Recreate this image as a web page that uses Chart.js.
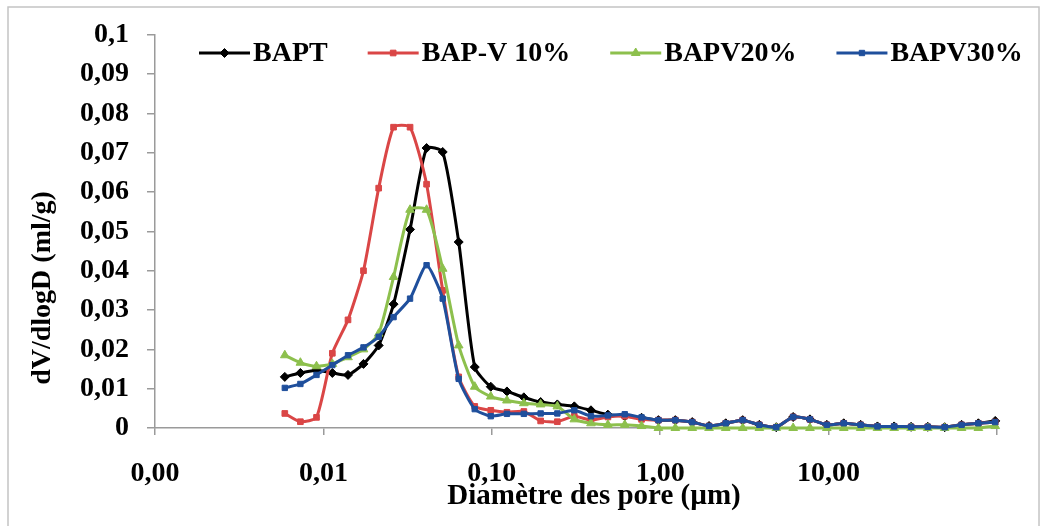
<!DOCTYPE html>
<html>
<head>
<meta charset="utf-8">
<script src="https://cdn.jsdelivr.net/npm/chart.js@4.4.0/dist/chart.umd.min.js"></script>
<style>
html,body{margin:0;padding:0;background:#fff;}
#wrap{width:1045px;height:526px;position:relative;}
</style>
</head>
<body>
<div id="wrap"><canvas id="c" width="1045" height="526"></canvas></div>
<script>
// ---- data ----
const diameters = [0.0059, 0.0073, 0.0091, 0.0113, 0.014, 0.0173, 0.0213, 0.0261, 0.0327, 0.041,
  0.0511, 0.0636, 0.0792, 0.0986, 0.123, 0.155, 0.195, 0.245, 0.309, 0.388,
  0.489, 0.616, 0.775, 0.976, 1.23, 1.55, 1.95, 2.45, 3.09, 3.88,
  4.89, 6.16, 7.75, 9.76, 12.3, 15.5, 19.5, 24.5, 30.9, 38.8,
  48.9, 61.6, 77.5, 97.6];

const seriesNames = ["BAPT", "BAP-V 10%", "BAPV20%", "BAPV30%"];

const bapt = [0.0130, 0.0140, 0.0147, 0.0140, 0.0135, 0.0163, 0.0210, 0.0315, 0.0505, 0.0712,
  0.0702, 0.0473, 0.0155, 0.0105, 0.0093, 0.0078, 0.0066, 0.0060, 0.0055, 0.0045,
  0.0034, 0.0030, 0.0026, 0.0020, 0.0020, 0.0015, 0.0005, 0.0012, 0.0020, 0.0008,
  0.0002, 0.0028, 0.0022, 0.0008, 0.0012, 0.0008, 0.0004, 0.0004, 0.0003, 0.0003,
  0.0002, 0.0008, 0.0012, 0.0018];

const bapv10 = [0.0037, 0.0016, 0.0027, 0.0190, 0.0275, 0.0400, 0.0610, 0.0765, 0.0765, 0.0620,
  0.0350, 0.0130, 0.0055, 0.0045, 0.0040, 0.0042, 0.0018, 0.0016, 0.0030, 0.0020,
  0.0028, 0.0030, 0.0022, 0.0020, 0.0020, 0.0015, 0.0005, 0.0012, 0.0020, 0.0008,
  0.0002, 0.0028, 0.0022, 0.0008, 0.0012, 0.0008, 0.0004, 0.0004, 0.0003, 0.0003,
  0.0002, 0.0008, 0.0012, 0.0015];

const bapv20 = [0.0185, 0.0166, 0.0157, 0.0163, 0.0180, 0.0200, 0.0240, 0.0384, 0.0555, 0.0555,
  0.0405, 0.0210, 0.0105, 0.0080, 0.0070, 0.0063, 0.0060, 0.0055, 0.0022, 0.0012,
  0.0008, 0.0008, 0.0005, 0.0000, 0.0000, 0.0000, 0.0000, 0.0000, 0.0000, 0.0000,
  0.0000, 0.0000, 0.0000, 0.0000, 0.0000, 0.0000, 0.0000, 0.0000, 0.0000, 0.0000,
  0.0000, 0.0000, 0.0000, 0.0005];

const bapv30 = [0.0102, 0.0112, 0.0135, 0.0160, 0.0185, 0.0205, 0.0232, 0.0282, 0.0329, 0.0414,
  0.0329, 0.0125, 0.0048, 0.0030, 0.0036, 0.0036, 0.0037, 0.0037, 0.0045, 0.0030,
  0.0032, 0.0035, 0.0027, 0.0020, 0.0020, 0.0015, 0.0005, 0.0012, 0.0020, 0.0008,
  0.0002, 0.0028, 0.0022, 0.0008, 0.0012, 0.0008, 0.0004, 0.0004, 0.0003, 0.0003,
  0.0002, 0.0008, 0.0012, 0.0015];

const xTickValues = [0.001, 0.01, 0.1, 1, 10, 100];
const xTickLabels = ["0,00", "0,01", "0,10", "1,00", "10,00", ""];
const yTickValues = [0, 0.01, 0.02, 0.03, 0.04, 0.05, 0.06, 0.07, 0.08, 0.09, 0.1];
const yTickLabels = ["0", "0,01", "0,02", "0,03", "0,04", "0,05", "0,06", "0,07", "0,08", "0,09", "0,1"];
const xTitle = "Diamètre des pore (µm)";
const yTitle = "dV/dlogD (ml/g)";

// ---- styling ----
const FONT = "'Liberation Serif', 'Times New Roman', serif";
const colors = ["#000000", "#DA4646", "#8DC04D", "#1F4F9C"];
const styles = ["rectRot", "rect", "triangle", "rect"];
const radii = [4.5, 4, 5, 3.8];
const orders = [3, 2, 1, 0];
const seriesValues = [bapt, bapv10, bapv20, bapv30];

const datasets = seriesNames.map((name, k) => ({
  label: name,
  data: diameters.map((d, i) => ({ x: d, y: seriesValues[k][i] })),
  borderColor: colors[k],
  backgroundColor: colors[k],
  borderWidth: 3,
  pointStyle: styles[k],
  pointRadius: radii[k],
  pointBorderWidth: 1,
  pointBackgroundColor: colors[k],
  pointBorderColor: colors[k],
  tension: 0.2,
  clip: false,
  order: orders[k]
}));

const decor = {
  id: 'decor',
  beforeDraw(chart) {
    const ctx = chart.ctx;
    ctx.save();
    ctx.fillStyle = '#ffffff';
    ctx.fillRect(0, 0, chart.width, chart.height);
    ctx.restore();
  },
  afterDraw(chart) {
    const ctx = chart.ctx;
    ctx.save();
    // frame
    ctx.strokeStyle = '#C4C4C4';
    ctx.lineWidth = 1.5;
    ctx.strokeRect(8, 7, 1031, 540);
    // axis titles
    ctx.fillStyle = '#000';
    ctx.font = "bold 29px " + FONT;
    ctx.textAlign = 'center';
    ctx.textBaseline = 'middle';
    ctx.fillText(xTitle, 594, 497);
    ctx.font = "bold 28px " + FONT;
    ctx.save();
    ctx.translate(43, 288);
    ctx.rotate(-Math.PI / 2);
    ctx.fillText(yTitle, 0, 0);
    ctx.restore();
    // legend
    ctx.font = "bold 28px " + FONT;
    ctx.textAlign = 'left';
    let x = 199;
    const y = 53;
    chart.data.datasets.forEach((ds) => {
      ctx.strokeStyle = ds.borderColor;
      ctx.fillStyle = ds.backgroundColor;
      ctx.lineWidth = 3;
      ctx.beginPath();
      ctx.moveTo(x, y);
      ctx.lineTo(x + 51, y);
      ctx.stroke();
      ctx.lineWidth = 1;
      Chart.helpers.drawPoint(ctx, { pointStyle: ds.pointStyle, radius: ds.pointRadius, rotation: 0, borderWidth: 1 }, x + 25.5, y);
      ctx.fillStyle = '#000';
      ctx.fillText(ds.label, x + 54, y + 1);
      x += 54 + ctx.measureText(ds.label).width + 40;
    });
    ctx.restore();
  }
};

new Chart(document.getElementById('c'), {
  type: 'line',
  data: { datasets },
  options: {
    responsive: false,
    devicePixelRatio: 1,
    animation: false,
    events: [],
    layout: { padding: { left: 0, top: 33, right: 48, bottom: 0 } },
    plugins: { legend: { display: false }, tooltip: { enabled: false }, title: { display: false } },
    scales: {
      x: {
        type: 'logarithmic',
        position: 'bottom',
        min: 0.001,
        max: 100,
        afterBuildTicks: (s) => { s.ticks = xTickValues.map(v => ({ value: v })); },
        afterFit: (s) => { s.height = 98; },
        ticks: {
          autoSkip: false,
          maxRotation: 0,
          padding: 22,
          color: '#000',
          font: { family: FONT, size: 28, weight: 'bold' },
          callback: (v, i) => xTickLabels[i]
        },
        grid: { drawOnChartArea: false, drawTicks: true, tickLength: 7, color: '#9A9A9A', lineWidth: 1.5 },
        border: { display: true, color: '#9A9A9A', width: 1.5 }
      },
      y: {
        type: 'linear',
        min: 0,
        max: 0.1,
        afterBuildTicks: (s) => { s.ticks = yTickValues.map(v => ({ value: v })); },
        afterFit: (s) => { s.width = 155; },
        ticks: {
          padding: 18,
          color: '#000',
          font: { family: FONT, size: 28, weight: 'bold' },
          callback: (v, i) => yTickLabels[i]
        },
        grid: { drawOnChartArea: false, drawTicks: true, tickLength: 8, color: '#9A9A9A', lineWidth: 1.5 },
        border: { display: true, color: '#9A9A9A', width: 1.5 }
      }
    }
  },
  plugins: [decor]
});
</script>
</body>
</html>
